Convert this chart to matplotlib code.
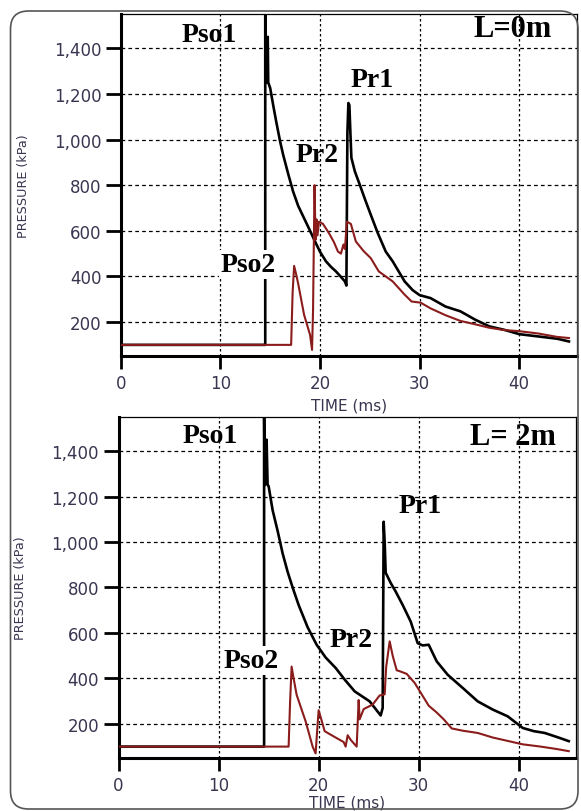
import matplotlib
matplotlib.use("Agg")
import matplotlib.pyplot as plt
from matplotlib.patches import FancyBboxPatch

# Panel 1 (L = 0 m): time in ms, pressure in kPa
top_black_t = [0, 14.5, 14.5, 14.6, 14.7, 14.75, 14.8, 15.0, 15.3, 15.6, 16.0, 16.3,
               16.8, 17.3, 17.8, 18.4, 19.0, 19.5, 20.0, 20.6, 21.1, 21.6, 22.1, 22.5,
               22.65, 22.75, 22.85, 22.95, 23.05, 23.15, 23.5, 24.0, 24.5, 25.1, 25.8,
               26.6, 27.3, 28.5, 29.3, 30.0, 31.1, 32.6, 34.1, 35.6, 37.0, 38.5, 40.0,
               41.9, 43.8, 45.0]
top_black_p = [100, 100, 1600, 1250, 1260, 1450, 1250, 1225, 1150, 1079, 990, 933,
               850, 772, 710, 655, 600, 553, 508, 466, 442, 422, 398, 378,
               360, 1030, 1160, 1150, 1030, 920, 860, 801, 740, 670, 590,
               509, 466, 378, 340, 318, 305, 268, 247, 210, 181, 166, 147,
               137, 127, 115]

top_red_t = [0, 17.1, 17.25, 17.4, 17.6, 17.8, 18.4, 19.0, 19.2, 19.3, 19.45, 19.55,
             19.65, 19.75, 19.9, 20.3, 20.6, 21.0, 21.4, 21.8, 22.1, 22.35, 22.5, 22.7,
             23.1, 23.6, 24.4, 25.1, 25.9, 27.3, 28.5, 29.2, 30.1, 31.1, 32.6, 34.1,
             35.6, 37.0, 38.5, 40.0, 41.9, 43.8, 45.0]
top_red_p = [100, 100, 330, 446, 410, 370, 232, 144, 78, 250, 800, 560,
             650, 580, 640, 630, 610, 582, 550, 509, 500, 540, 520, 640,
             630, 553, 510, 480, 422, 378, 320, 290, 285, 260, 230, 205,
             190, 175, 165, 160, 150, 135, 130]

# Panel 2 (L = 2 m)
bot_black_t = [0, 14.55, 14.55, 14.6, 14.75, 14.8, 14.9, 15.0, 15.4, 15.9, 16.4, 16.9,
               17.4, 18.0, 18.9, 19.8, 20.7, 21.7, 22.6, 23.6, 25.1, 26.2, 26.4, 26.5,
               26.6, 26.7, 27.2, 27.7, 28.4, 29.2, 29.9, 30.4, 31.0, 31.8, 32.9, 34.4,
               35.9, 37.4, 38.9, 40.4, 41.5, 42.6, 44.1, 45.0]
bot_black_p = [100, 100, 1600, 1250, 1260, 1450, 1250, 1246, 1140, 1049, 950, 869,
               800, 723, 625, 548, 492, 446, 395, 343, 299, 237, 270, 1089,
               1000, 865, 820, 782, 723, 650, 555, 545, 548, 475, 416, 358,
               299, 263, 233, 182, 168, 160, 138, 124]

bot_red_t = [0, 17.0, 17.15, 17.3, 17.5, 17.8, 18.7, 19.4, 19.7, 19.9, 20.0, 20.2,
             20.6, 21.3, 22.5, 22.7, 22.9, 23.2, 23.8, 23.9, 24.0, 24.1, 24.5, 25.4,
             26.1, 26.6, 26.75, 27.1, 27.4, 27.8, 28.2, 28.8, 29.6, 30.3, 31.0, 31.8,
             32.5, 33.3, 34.4, 35.9, 37.4, 38.9, 40.4, 42.2, 43.7, 45.0]
bot_red_p = [100, 100, 300, 452, 400, 328, 211, 100, 70, 200, 260, 230,
             168, 150, 120, 100, 150, 130, 100, 200, 305, 220, 265, 285,
             325, 330, 450, 563, 500, 436, 430, 420, 380, 330, 280, 250,
             220, 180, 170, 160, 140, 125, 110, 100, 90, 80]

x_ticks = [0, 10, 20, 30, 40]
y_ticks = [200, 400, 600, 800, 1000, 1200, 1400]
y_tick_labels = ["200", "400", "600", "800", "1,000", "1,200", "1,400"]

# label text and position (time, pressure at baseline) for each panel
top_notes = [("Pso1", 8.9, 1431), ("L=0m", 39.3, 1453), ("Pr1", 25.2, 1233),
             ("Pr2", 19.7, 908), ("Pso2", 12.8, 424)]
bot_notes = [("Pso1", 9.2, 1441), ("L= 2m", 39.4, 1432), ("Pr1", 30.1, 1133),
             ("Pr2", 23.2, 544), ("Pso2", 13.3, 452)]

LABEL_COLOR = "#3a3550"
RED = "#8b1c1c"


def draw_panel(ax, black_t, black_p, red_t, red_p, notes, xmax, xlabel_y):

    # Curves: black first, red on top
    ax.plot(black_t, black_p, color="black", linewidth=1.9, zorder=3)
    ax.plot(red_t, red_p, color=RED, linewidth=1.5, zorder=4)

    ax.set_xlim(0, xmax)
    ax.set_ylim(50, 1550)
    ax.set_xticks(x_ticks)
    ax.set_yticks(y_ticks)
    ax.set_yticklabels(y_tick_labels)

    # Dashed grid, vertical lines dotted
    ax.xaxis.grid(True, color="black", linewidth=0.9, linestyle=(0, (2, 2)))
    ax.yaxis.grid(True, color="black", linewidth=0.9, linestyle=(0, (3, 2.5)))
    ax.set_axisbelow(True)

    # Spines: heavy left/bottom, thin top/right
    for side in ["left", "bottom"]:
        ax.spines[side].set_linewidth(2.2)
    for side in ["top", "right"]:
        ax.spines[side].set_linewidth(0.9)

    ax.tick_params(axis="both", direction="out", width=2.0, colors="black",
                   labelcolor=LABEL_COLOR, labelsize=12)
    ax.tick_params(axis="y", length=11, pad=3)
    ax.tick_params(axis="x", length=9, pad=4)

    ax.set_xlabel("TIME (ms)", fontsize=11, color=LABEL_COLOR)
    ax.set_ylabel("PRESSURE (kPa)", fontsize=9.2, color=LABEL_COLOR)
    ax.xaxis.set_label_coords(0.5, xlabel_y)
    ax.yaxis.set_label_coords(-0.20, 0.5)

    # Peak labels
    for text, t, p in notes:
        kw = {}
        if text == "Pso2":
            kw["bbox"] = dict(facecolor="white", edgecolor="none", pad=1.5)
        size = 22 if text.startswith("L") else 20
        ax.text(t, p, text, fontsize=size, fontweight="bold",
                family="Liberation Serif", ha="center", va="baseline",
                zorder=6, **kw)


fig = plt.figure(figsize=(5.81, 8.12), dpi=100)

# Rounded outer frame
frame = FancyBboxPatch((0.105, 0.02), 5.675, 7.98,
                       boxstyle="round,pad=0,rounding_size=0.18",
                       transform=fig.dpi_scale_trans, facecolor="none",
                       edgecolor="#555555", linewidth=1.2)
fig.patches.append(frame)

ax1 = fig.add_axes([0.208, 0.560, 0.785, 0.4215])
draw_panel(ax1, top_black_t, top_black_p, top_red_t, top_red_p, top_notes,
           45.8, -0.12)

ax2 = fig.add_axes([0.204, 0.0653, 0.787, 0.420])
draw_panel(ax2, bot_black_t, bot_black_p, bot_red_t, bot_red_p, bot_notes,
           45.7, -0.108)

fig.savefig("out.png", dpi=100)
